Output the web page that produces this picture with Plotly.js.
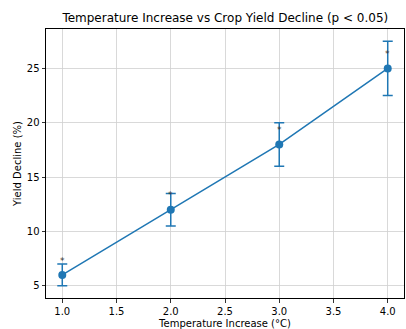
<!DOCTYPE html>
<html>
<head>
<meta charset="utf-8">
<script src="https://cdn.plot.ly/plotly-3.0.1.min.js"></script>
<style>html,body{margin:0;padding:0;background:#fff;}#chart{width:406px;height:329px;}</style>
</head>
<body>
<div id="chart"></div>
<script>
const temperature = [1.0, 2.0, 3.0, 4.0];
const yieldDecline = [6, 12, 18, 25];
const errors = [1.0, 1.5, 2.0, 2.5];
const starY = [7.5, 13.5, 19.5, 26.5];
const starText = ['*', '*', '*', '*'];
const xTicks = [1.0, 1.5, 2.0, 2.5, 3.0, 3.5, 4.0];
const xTickText = ['1.0', '1.5', '2.0', '2.5', '3.0', '3.5', '4.0'];
const yTicks = [5, 10, 15, 20, 25];

const font = 'DejaVu Sans, sans-serif';
const data = [
  {
    x: temperature, y: yieldDecline, type: 'scatter', mode: 'lines+markers',
    line: {color: '#1f77b4', width: 1.5},
    marker: {color: '#1f77b4', size: 8},
    error_y: {type: 'data', array: errors, visible: true, color: '#1f77b4', thickness: 1.5, width: 5},
    hoverinfo: 'skip', showlegend: false
  }
];
const annotations = temperature.map((t, i) => ({
  x: t, y: starY[i], xref: 'x', yref: 'y', text: starText[i], showarrow: false,
  font: {family: font, size: 9, color: '#333333'}, xanchor: 'center', yanchor: 'middle', yshift: -2
}));
const axisCommon = {
  showline: true, mirror: true, linecolor: '#000', linewidth: 1,
  ticks: 'outside', ticklen: 3.5, tickcolor: '#000', tickwidth: 0.8,
  showgrid: true, gridcolor: '#d0d0d0', gridwidth: 0.8, zeroline: false,
  tickfont: {family: font, size: 10, color: '#000'}
};
const layout = {
  width: 406, height: 329,
  margin: {l: 46, r: 2, t: 29, b: 31},
  paper_bgcolor: '#fff', plot_bgcolor: '#fff',
  annotations: annotations,
  title: {text: 'Temperature Increase vs Crop Yield Decline (p < 0.05)', font: {family: font, size: 12, color: '#000'}, x: 0.555, xanchor: 'center', y: 0.945, yanchor: 'middle'},
  xaxis: Object.assign({}, axisCommon, {
    range: [0.85, 4.15], tickvals: xTicks, ticktext: xTickText,
    title: {text: 'Temperature Increase (°C)', font: {family: font, size: 10, color: '#000'}, standoff: 4}
  }),
  yaxis: Object.assign({}, axisCommon, {
    range: [3.875, 28.625], tickvals: yTicks,
    title: {text: 'Yield Decline (%)', font: {family: font, size: 10, color: '#000'}, standoff: 3}
  })
};
Plotly.newPlot('chart', data, layout, {displayModeBar: false, staticPlot: true});
</script>
</body>
</html>
